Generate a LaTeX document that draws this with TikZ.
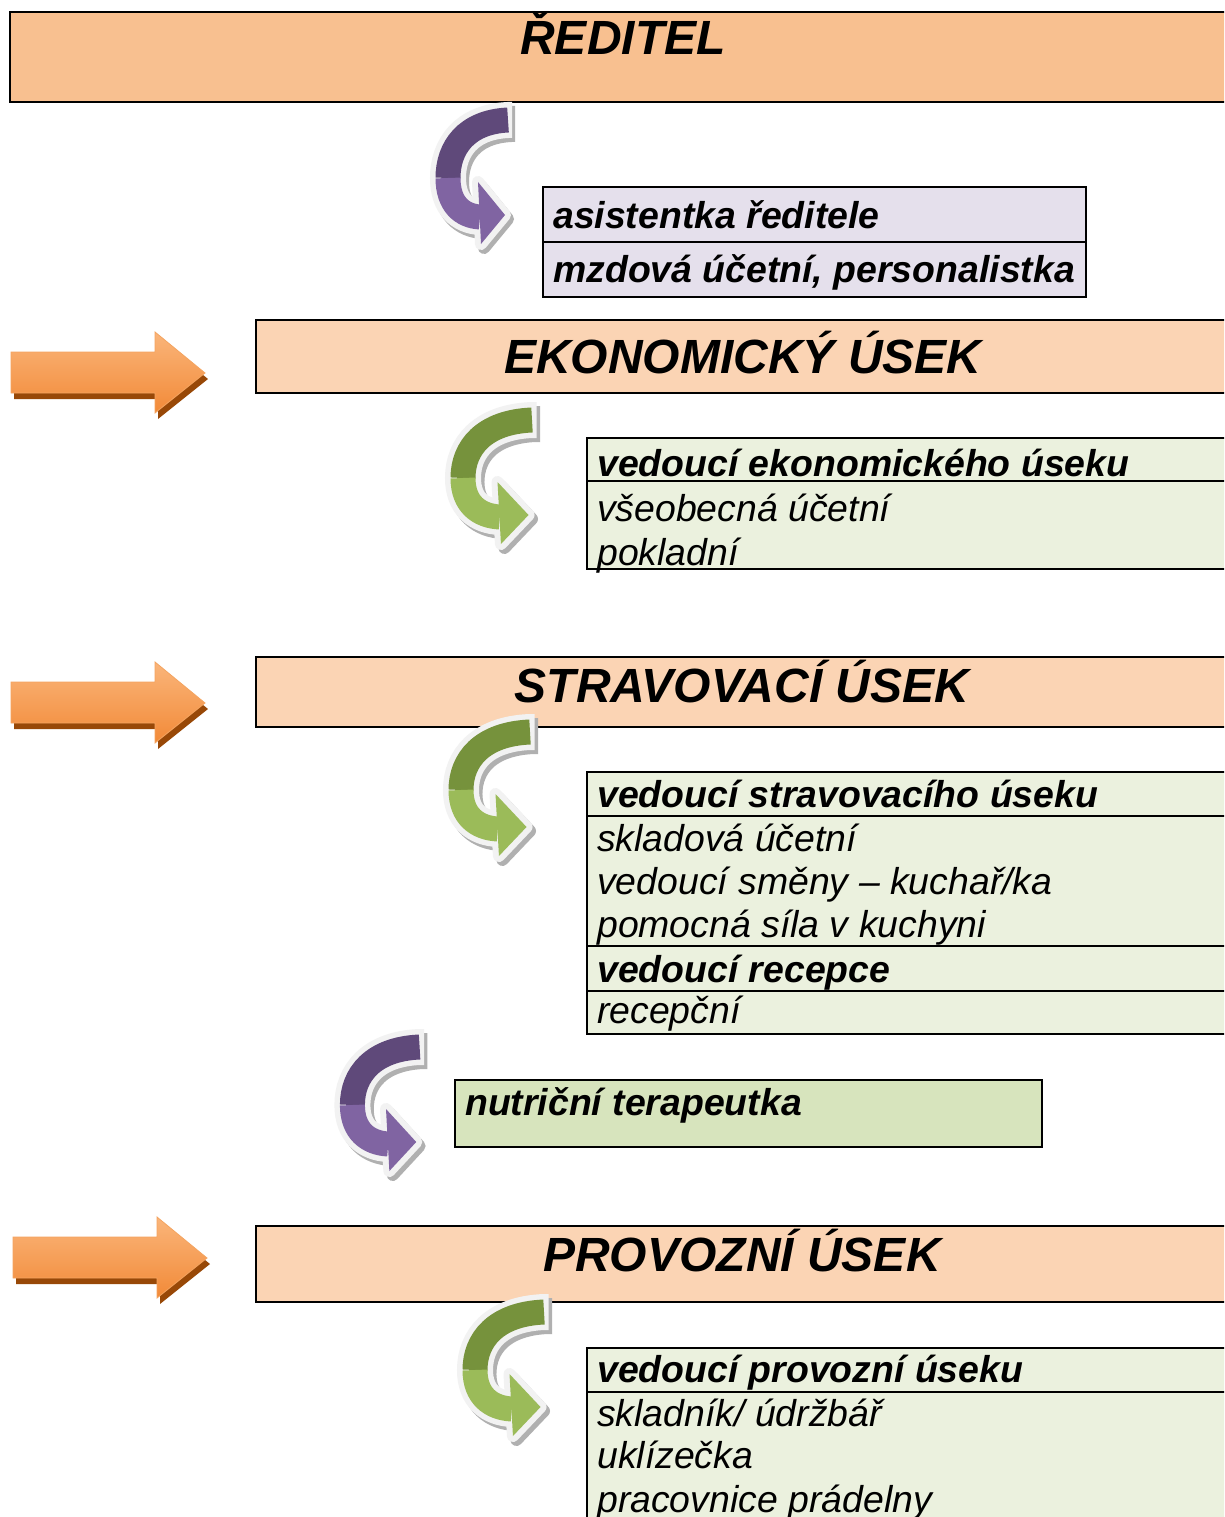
\documentclass[tikz,border=0pt]{standalone}
\usepackage{fontspec}
\setmainfont{Liberation Sans}
\definecolor{reditel}{HTML}{F8C090}
\definecolor{usek}{HTML}{FBD4B4}
\definecolor{lav}{HTML}{E5E0EC}
\definecolor{lgreen}{HTML}{EBF1DE}
\definecolor{mgreen}{HTML}{D7E4BD}
\definecolor{purpD}{HTML}{5F497A}
\definecolor{purpL}{HTML}{8064A2}
\definecolor{greenD}{HTML}{76923C}
\definecolor{greenL}{HTML}{9BBB59}
\definecolor{shgrey}{HTML}{B0B0B0}
\definecolor{wband}{HTML}{F2F2F2}
\definecolor{otop}{HTML}{FAB57A}
\definecolor{omid}{HTML}{F79646}
\definecolor{obot}{HTML}{F28A38}
\definecolor{oshadow}{HTML}{984807}
\definecolor{oedge}{HTML}{F4A460}

\newcommand\mycurvarrow[5]{%
 \begin{scope}[shift={(#1,#2)}, xscale=#3]
  \begin{scope}[shift={(3,4)}]
   \draw[line width=36pt, color=shgrey] (84,20) -- (80,20) .. controls (38,22) and (20,48) .. (20,78) .. controls (20,104) and (34,116) .. (52,117);
   \filldraw[shgrey, line width=12pt, line join=round] (50,82) -- (77,115) -- (53,144) -- cycle;
  \end{scope}
  \draw[line width=36pt, color=wband] (84,20) -- (80,20) .. controls (38,22) and (20,48) .. (20,78) .. controls (20,104) and (34,116) .. (52,117);
  \filldraw[wband, line width=12pt, line join=round] (50,82) -- (77,115) -- (53,144) -- cycle;
  \draw[line width=25pt, color=#4] (80,20) .. controls (38,22) and (20,48) .. (20,78);
  \draw[line width=25pt, color=#5] (20,78) .. controls (20,104) and (34,116) .. (52,117);
  \fill[#5] (50,82) -- (77,115) -- (53,144) -- cycle;
 \end{scope}}

\newcommand\myorangearrow[2]{%
 \begin{scope}[shift={(#1,#2)}]
  \fill[oshadow] (14,-15) -- (158,-15) -- (158,-35) -- (208,6) -- (158,46) -- (158,26) -- (14,26) -- cycle;
  \shade[top color=otop, middle color=omid, bottom color=obot, draw=oedge, line width=0.8pt]
    (11,-21) -- (155,-21) -- (155,-41) -- (205,0) -- (155,40) -- (155,20) -- (11,20) -- cycle;
 \end{scope}}

\begin{document}
\begin{tikzpicture}[x=1pt, y=-1pt,
  box/.style={draw=black, line width=1.8pt},
  headtext/.style={font=\fontsize{48}{52}\selectfont\bfseries\itshape, anchor=base, inner sep=0},
  bi/.style={font=\fontsize{37.4}{44}\selectfont\bfseries\itshape, anchor=base west, inner sep=0},
  it/.style={font=\fontsize{37.4}{44}\selectfont\itshape, anchor=base west, inner sep=0}]
\useasboundingbox (0,0) rectangle (1224,1517);
\clip (0,0) rectangle (1224,1517);
\fill[white] (0,0) rectangle (1224,1517);

% boxes
\draw[box, fill=reditel] (10,12) rectangle (1240,102);
\draw[box, fill=lav] (543,187) rectangle (1086,297);
\draw[box] (543,242) -- (1086,242);
\draw[box, fill=usek] (256,320) rectangle (1240,393);
\draw[box, fill=lgreen] (587,438) rectangle (1240,569);
\draw[box] (587,481) -- (1240,481);
\draw[box, fill=usek] (256,657) rectangle (1240,727);
\draw[box, fill=lgreen] (587,772) rectangle (1240,1034);
\draw[box] (587,816) -- (1240,816);
\draw[box] (587,946) -- (1240,946);
\draw[box] (587,991) -- (1240,991);
\draw[box, fill=mgreen] (455,1080) rectangle (1042,1147);
\draw[box, fill=usek] (256,1226) rectangle (1240,1302);
\draw[box, fill=lgreen] (587,1348) rectangle (1240,1560);
\draw[box] (587,1392) -- (1240,1392);

% orange arrows
\myorangearrow{0}{373}
\myorangearrow{0}{703}
\myorangearrow{2}{1258}

% curved arrows
\mycurvarrow{428}{100}{1}{purpD}{purpL}
\mycurvarrow{440}{400}{1.15}{greenD}{greenL}
\mycurvarrow{438}{712}{1.15}{greenD}{greenL}
\mycurvarrow{330}{1027}{1.12}{purpD}{purpL}
\mycurvarrow{452}{1292}{1.15}{greenD}{greenL}

% texts
\node[headtext] (reditelT) at (623,55) {ŘEDITEL};
\node[headtext] (ekonT) at (743,373) {EKONOMICKÝ ÚSEK};
\node[headtext] (stravT) at (742,702) {STRAVOVACÍ ÚSEK};
\node[headtext] (provT) at (742,1271) {PROVOZNÍ ÚSEK};

\node[bi] (asist) at (553,228) {asistentka ředitele};
\node[bi] (mzd) at (553,282) {mzdová účetní, personalistka};
\node[bi] (ved1) at (597,476) {vedoucí ekonomického úseku};
\node[it] (vseo) at (597,521) {všeobecná účetní};
\node[it] (pokl) at (597,565) {pokladní};
\node[bi] (ved2) at (597,807) {vedoucí stravovacího úseku};
\node[it] (sklu) at (597,851) {skladová účetní};
\node[it] (smeny) at (597,894) {vedoucí směny – kuchař/ka};
\node[it] (pomoc) at (597,937) {pomocná síla v kuchyni};
\node[bi] (vedrec) at (597,982) {vedoucí recepce};
\node[it] (recep) at (597,1023) {recepční};
\node[bi] (nutri) at (465,1115) {nutriční terapeutka};
\node[bi] (ved3) at (597,1382) {vedoucí provozní úseku};
\node[it] (sklad) at (597,1426) {skladník/ údržbář};
\node[it] (ukl) at (597,1468) {uklízečka};
\node[it] (prac) at (597,1512) {pracovnice prádelny};
\end{tikzpicture}
\end{document}
